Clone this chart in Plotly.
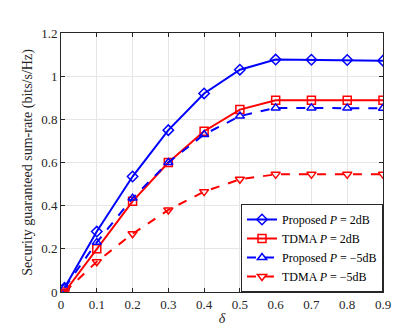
import plotly.graph_objects as go

# значения delta
delta = [0.01, 0.1, 0.2, 0.3, 0.4, 0.5, 0.6, 0.7, 0.8, 0.9]

proposed_2db = [0.02, 0.28, 0.535, 0.75, 0.92, 1.03, 1.077, 1.076, 1.075, 1.072]
tdma_2db = [0.0, 0.20, 0.42, 0.60, 0.745, 0.845, 0.888, 0.888, 0.888, 0.888]
proposed_m5db = [0.02, 0.23, 0.435, 0.60, 0.73, 0.815, 0.853, 0.853, 0.852, 0.851]
tdma_m5db = [0.0, 0.14, 0.27, 0.38, 0.465, 0.522, 0.545, 0.545, 0.545, 0.545]

x_ticks = [0, 0.1, 0.2, 0.3, 0.4, 0.5, 0.6, 0.7, 0.8, 0.9]
y_ticks = [0, 0.2, 0.4, 0.6, 0.8, 1.0, 1.2]
y_labels = ["0", "0.2", "0.4", "0.6", "0.8", "1", "1.2"]

FONT = "'Liberation Serif', 'Times New Roman', Times, serif"

series = [
    ("Proposed <i>P</i> = 2dB", proposed_2db, "#0000ff", "diamond-open", "solid"),
    ("TDMA <i>P</i> = 2dB", tdma_2db, "#ff0000", "square-open", "solid"),
    ("Proposed <i>P</i> = \u22125dB", proposed_m5db, "#0000ff", "triangle-up-open", "dash"),
    ("TDMA <i>P</i> = \u22125dB", tdma_m5db, "#ff0000", "triangle-down-open", "dash"),
]

fig = go.Figure()
for name, y, color, symbol, dash in series:
    fig.add_trace(go.Scatter(
        x=delta, y=y, name=name, mode="lines+markers",
        line=dict(color=color, width=2, dash=dash),
        marker=dict(symbol=symbol, size=8, color=color, line=dict(width=1.5, color=color)),
    ))

axis_style = dict(
    showline=True, linecolor="#262626", linewidth=1, mirror="ticks",
    ticks="inside", ticklen=4, tickcolor="#262626",
    showgrid=True, gridcolor="#e6e6e6", gridwidth=1, zeroline=False,
    tickfont=dict(family=FONT, size=13, color="#262626"),
)

fig.update_xaxes(range=[0, 0.9], tickvals=x_ticks, ticktext=[str(v) if v else "0" for v in x_ticks],
                 title=dict(text="<i>\u03b4</i>", font=dict(family=FONT, size=14, color="#262626"), standoff=2),
                 **axis_style)
fig.update_yaxes(range=[0, 1.2], tickvals=y_ticks, ticktext=y_labels,
                 title=dict(text="Security guaranteed sum-rate (bits/s/Hz)",
                            font=dict(family=FONT, size=14, color="#262626"), standoff=5),
                 **axis_style)

fig.update_layout(
    width=415, height=327,
    margin=dict(l=53, r=40, t=25, b=37),
    paper_bgcolor="white", plot_bgcolor="white",
    font=dict(family=FONT, color="#000000"),
    legend=dict(
        x=1, y=0, xanchor="right", yanchor="bottom",
        bgcolor="white", bordercolor="#262626", borderwidth=1,
        font=dict(family=FONT, size=12, color="#000000"),
        tracegroupgap=0, itemwidth=30,
    ),
)

fig.write_html("out.html")
